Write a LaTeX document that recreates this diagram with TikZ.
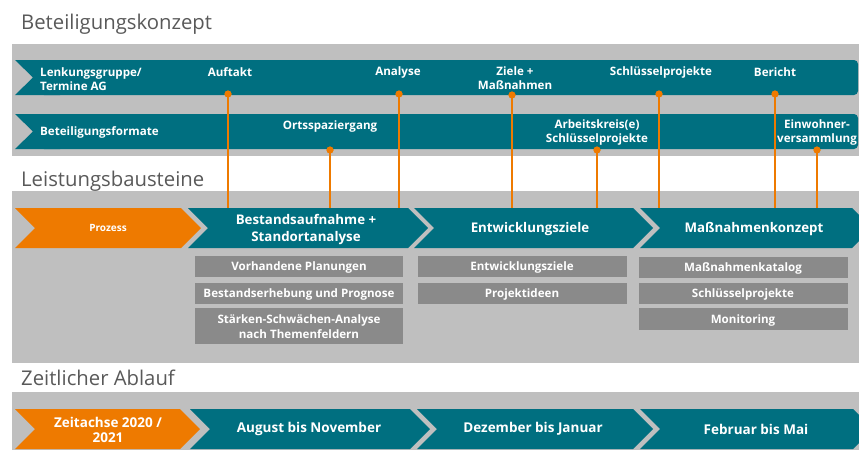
\documentclass[tikz,border=0pt]{standalone}
\usepackage{fontspec}
\setmainfont{Open Sans}
\definecolor{tealc}{HTML}{006F80}
\definecolor{orangec}{HTML}{EE7A00}
\definecolor{bandc}{HTML}{BFBFBF}
\definecolor{boxc}{HTML}{8A8A8A}
\definecolor{titlec}{HTML}{595959}
\tikzset{
  title/.style={anchor=base west, inner sep=0, text=titlec, font=\fontsize{20.3}{23}\selectfont},
  lbl/.style={text=white, inner sep=0, align=center, font=\bfseries\fontsize{11.6}{14}\selectfont},
  sublbl/.style={text=white, inner sep=0, align=center, font=\bfseries\fontsize{11.6}{15}\selectfont},
  lbll/.style={lbl, align=left, anchor=west},
  big/.style={text=white, inner sep=0, align=center, font=\bfseries\fontsize{13.3}{17}\selectfont},
  tl/.style={text=white, inner sep=0, align=center, font=\bfseries\fontsize{13.5}{15}\selectfont},
  small/.style={text=white, inner sep=0, font=\bfseries\fontsize{10}{12}\selectfont},
  dot/.style={circle, fill=orangec, inner sep=0, minimum size=7pt},
  oline/.style={draw=orangec, line width=2pt},
  subbox/.style={fill=boxc},
}
\newcommand{\chev}[6]{% x1 x2 ytop ybot color depth
  \fill[#5] (#1,#3) -- (#2,#3) -- ({#2+#6},{(#3+#4)/2}) -- (#2,#4) -- (#1,#4) -- ({#1+#6},{(#3+#4)/2}) -- cycle;}
\begin{document}
\begin{tikzpicture}[x=1pt,y=-1pt]
\useasboundingbox (0,0) rectangle (859,450);
\clip (0,0) rectangle (859,450);
% titles
\node[title] (t1) at (21,29) {Beteiligungskonzept};
\node[title] (t2) at (21,186) {Leistungsbausteine};
\node[title] (t3) at (21,385) {Zeitlicher Ablauf};
% bands
\fill[bandc] (12,44) rectangle (859,156);
\fill[bandc] (12,191) rectangle (859,363);
\fill[bandc] (12,392) rectangle (859,450);
% row 1 and 2
\fill[tealc, rounded corners=4pt] (40,60) rectangle (858,95);
\fill[tealc] (15,60) -- (60,60) -- (60,95) -- (15,95) -- (33,77.5) -- cycle;
\fill[tealc, rounded corners=4pt] (40,114) rectangle (858,149);
\fill[tealc] (15,114) -- (60,114) -- (60,149) -- (15,149) -- (33,131.5) -- cycle;
% process chevrons
\chev{15}{181}{208}{248}{orangec}{20}
\chev{188}{408}{208}{248}{tealc}{20}
\chev{414}{633}{208}{248}{tealc}{20}
\chev{640}{852}{208}{248}{tealc}{20}
% time chevrons
\chev{15}{180}{409}{449}{orangec}{20}
\chev{190}{410}{409}{449}{tealc}{20}
\chev{417}{633}{409}{449}{tealc}{20}
\chev{640}{853}{409}{449}{tealc}{20}
% sub boxes
\fill[subbox] (195,256) rectangle (403,277);
\fill[subbox] (195,283) rectangle (403,304);
\fill[subbox] (195,308) rectangle (403,344);
\fill[subbox] (418,256) rectangle (627,277);
\fill[subbox] (418,283) rectangle (627,304);
\fill[subbox] (639,257) rectangle (848,278);
\fill[subbox] (639,283) rectangle (848,304);
\fill[subbox] (639,308) rectangle (848,330);
% row labels
\node[lbll] (lg) at (40,79) {Lenkungsgruppe/\\Termine AG};
\node[lbll] (bf) at (40,132) {Beteiligungsformate};
\node[lbl] (la) at (230,72) {Auftakt};
\node[lbl] (lb) at (398,72) {Analyse};
\node[lbl] (lc) at (515,78.5) {Ziele +\\Maßnahmen};
\node[lbl] (ld) at (661,72) {Schlüsselprojekte};
\node[lbl] (le) at (775,72) {Bericht};
\node[lbl] (lf) at (330,126) {Ortsspaziergang};
\node[lbl] (lh) at (597,132) {Arbeitskreis(e)\\Schlüsselprojekte};
\node[lbl] (li) at (817,132) {Einwohner-\\versammlung};
% connectors
\coordinate (ea) at (228,208);
\coordinate (eb) at (399,208);
\coordinate (ec) at (512,208);
\coordinate (ed) at (659,208);
\coordinate (ee) at (775,208);
\coordinate (ef) at (330,208);
\coordinate (eh) at (597,208);
\coordinate (ei) at (817,208);
\node[dot] (da) at (228,94) {};
\node[dot] (db) at (399,94) {};
\node[dot] (dc) at (512,95) {};
\node[dot] (dd) at (659,94) {};
\node[dot] (de) at (775,94) {};
\node[dot] (df) at (330,150) {};
\node[dot] (dh) at (597,150) {};
\node[dot] (di) at (817,150) {};
\foreach \n in {a,b,c,d,e,f,h,i}{\draw[oline] (d\n.center) -- (e\n);}
\foreach \n in {a,b,c,d,e,f,h,i}{\fill[orangec] (d\n) circle (3.5pt);}
% process labels
\node[small] (p0) at (108,228) {Prozess};
\node[big] (p1) at (306,229.5) {Bestandsaufnahme +\\Standortanalyse};
\node[big] (p2) at (530,229) {Entwicklungsziele};
\node[big] (p3) at (754,229) {Maßnahmenkonzept};
% sub labels
\node[sublbl] (s11) at (299,267.5) {Vorhandene Planungen};
\node[sublbl] (s12) at (299,294.5) {Bestandserhebung und Prognose};
\node[sublbl] (s13) at (299,327) {Stärken-Schwächen-Analyse\\nach Themenfeldern};
\node[sublbl] (s21) at (522,267.5) {Entwicklungsziele};
\node[sublbl] (s22) at (522,294.5) {Projektideen};
\node[sublbl] (s31) at (743,268.5) {Maßnahmenkatalog};
\node[sublbl] (s32) at (743,294.5) {Schlüsselprojekte};
\node[sublbl] (s33) at (743,320) {Monitoring};
% time labels
\node[tl] (z0) at (108,429.5) {Zeitachse 2020 /\\2021};
\node[tl] (z1) at (309,429) {August bis November};
\node[tl] (z2) at (533,429) {Dezember bis Januar};
\node[tl] (z3) at (756,429) {Februar bis Mai};
\end{tikzpicture}
\end{document}
